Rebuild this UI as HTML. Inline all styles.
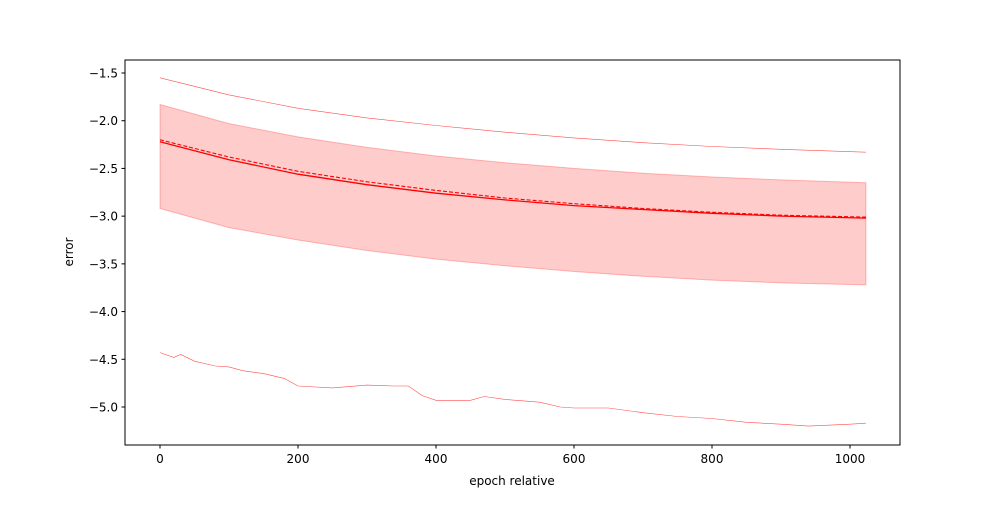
<!DOCTYPE html>
<html><head><meta charset="utf-8"><style>
body{margin:0;background:#fff;font-family:"Liberation Sans","DejaVu Sans",sans-serif}
svg text{font-family:"DejaVu Sans","Liberation Sans",sans-serif;font-size:12px;fill:#000}
</style></head><body>
<svg id="chart" width="1000" height="500" viewBox="0 0 1000 500" xmlns="http://www.w3.org/2000/svg">
<rect width="1000" height="500" fill="#fff"/>
<g id="plot"></g>
<rect x="125" y="60" width="775" height="385" fill="none" stroke="#000" stroke-width="1"/>
<g id="ticks"></g>
<text x="512" y="485" text-anchor="middle">epoch relative</text>
<text transform="translate(73,252) rotate(-90)" text-anchor="middle">error</text>
</svg>
<script>
const xs=[0,100,200,300,400,500,600,700,800,900,1023];
const maxLine=[-1.55,-1.73,-1.87,-1.97,-2.05,-2.12,-2.18,-2.23,-2.27,-2.30,-2.33];
const bandUpper=[-1.83,-2.03,-2.17,-2.28,-2.37,-2.44,-2.50,-2.55,-2.59,-2.62,-2.65];
const meanLine=[-2.22,-2.41,-2.56,-2.67,-2.76,-2.83,-2.89,-2.93,-2.97,-3.00,-3.02];
const dashedLine=[-2.20,-2.38,-2.53,-2.64,-2.73,-2.81,-2.87,-2.92,-2.96,-2.99,-3.01];
const bandLower=[-2.92,-3.12,-3.25,-3.36,-3.45,-3.52,-3.58,-3.63,-3.67,-3.70,-3.72];
const minXs=[0,20,30,50,80,100,120,150,180,200,250,300,340,360,380,400,450,470,500,550,580,600,650,700,750,800,850,900,940,1000,1023];
const minLine=[-4.43,-4.48,-4.45,-4.52,-4.57,-4.58,-4.62,-4.65,-4.70,-4.78,-4.80,-4.77,-4.78,-4.78,-4.88,-4.93,-4.93,-4.89,-4.92,-4.95,-5.00,-5.01,-5.01,-5.06,-5.10,-5.12,-5.16,-5.18,-5.20,-5.18,-5.17];
const xTicks=[0,200,400,600,800,1000];
const yTicks=[-1.5,-2.0,-2.5,-3.0,-3.5,-4.0,-4.5,-5.0];
const X=v=>160+v*0.69;
const Y=v=>73+(-1.5-v)*95.43;
const NS="http://www.w3.org/2000/svg";
const plot=document.getElementById('plot'),tk=document.getElementById('ticks');
function pts(xa,ya){return xa.map((x,i)=>X(x).toFixed(1)+','+Y(ya[i]).toFixed(1)).join(' ');}
const band=document.createElementNS(NS,'polygon');
band.setAttribute('points',pts(xs,bandUpper)+' '+pts(xs.slice().reverse(),bandLower.slice().reverse()));
band.setAttribute('fill','rgba(255,0,0,0.2)');band.setAttribute('stroke','rgba(255,0,0,0.25)');


plot.appendChild(band);
function line(xa,ya,w,dash,op,name){const p=document.createElementNS(NS,'polyline');
p.setAttribute('points',pts(xa,ya));p.setAttribute('fill','none');p.setAttribute('stroke','red');
p.setAttribute('stroke-width',w);p.setAttribute('stroke-opacity',op);if(dash)p.setAttribute('stroke-dasharray',dash);


plot.appendChild(p);}
line(xs,maxLine,0.6,null,0.7,'max-line');
line(minXs,minLine,0.6,null,0.7,'min-line');
line(xs,meanLine,1.3,null,1,'mean-line');
line(xs,dashedLine,1.1,'4,2',1,'median-line');
xTicks.forEach(v=>{const l=document.createElementNS(NS,'line');l.setAttribute('x1',X(v));l.setAttribute('x2',X(v));l.setAttribute('y1',445);l.setAttribute('y2',448.5);l.setAttribute('stroke','#000');


tk.appendChild(l);
const t=document.createElementNS(NS,'text');t.setAttribute('x',X(v));t.setAttribute('y',463);t.setAttribute('text-anchor','middle');t.textContent=v;


tk.appendChild(t);});
yTicks.forEach(v=>{const l=document.createElementNS(NS,'line');l.setAttribute('x1',121.5);l.setAttribute('x2',125);l.setAttribute('y1',Y(v));l.setAttribute('y2',Y(v));l.setAttribute('stroke','#000');


tk.appendChild(l);
const t=document.createElementNS(NS,'text');t.setAttribute('x',118);t.setAttribute('y',Y(v)+4.5);t.setAttribute('text-anchor','end');t.textContent=v.toFixed(1).replace('-','\u2212');


tk.appendChild(t);});
</script>
</body></html>
